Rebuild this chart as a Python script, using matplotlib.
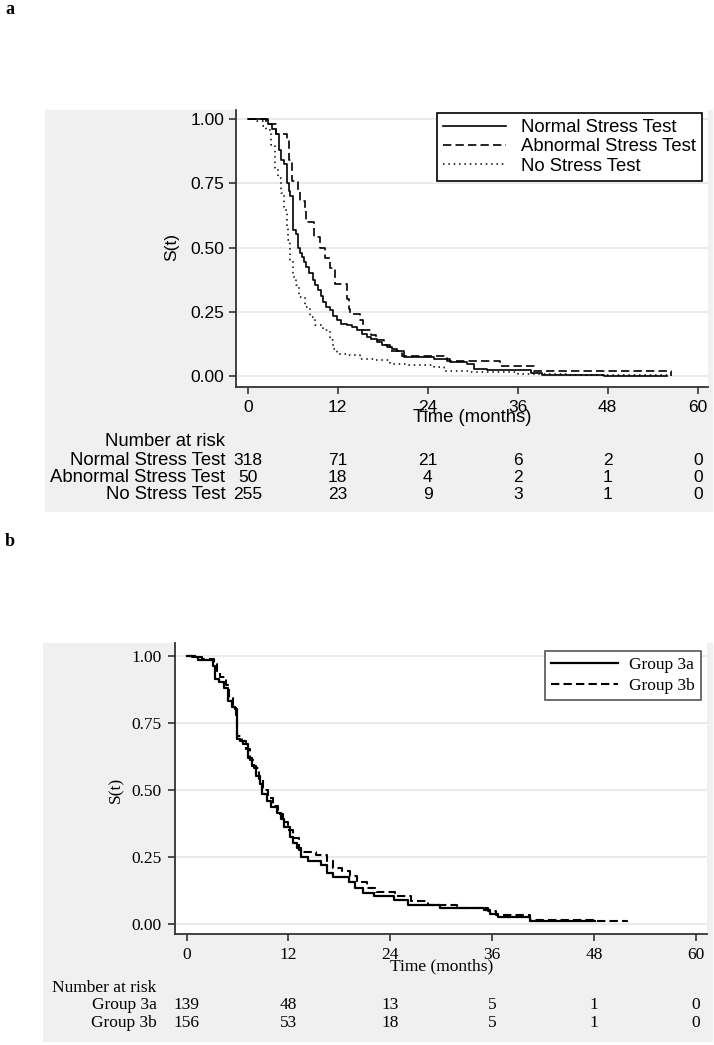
import numpy as np
import matplotlib.pyplot as plt
from matplotlib.patches import Rectangle
from matplotlib.transforms import blended_transform_factory

# ------------------------------------------------------------
# Data (Kaplan-Meier steps)
# ------------------------------------------------------------
risk_times = [0, 12, 24, 36, 48, 60]

# panel a
normal_t = [0, 2.7, 3.2, 3.8, 4.2, 4.5, 4.9, 5.2, 5.5, 5.7, 6.0, 6.1, 6.4, 6.7, 7.0,
            7.2, 7.5, 7.8, 8.2, 8.7, 9.0, 9.4, 9.8, 10.1, 10.5, 11.0, 11.4, 11.9, 12.5,
            13.2, 13.9, 14.6, 15.3, 15.9, 16.5, 17.2, 17.9, 18.6, 19.3, 19.9, 20.8,
            24.8, 27.0, 29.3, 30.2, 31.9, 37.8, 39.2, 47.5, 51.8, 55.9]
normal_s = [1.0, 0.98, 0.96, 0.94, 0.88, 0.84, 0.825, 0.75, 0.72, 0.70, 0.63, 0.57, 0.553,
            0.50, 0.48, 0.463, 0.445, 0.424, 0.40, 0.373, 0.355, 0.334, 0.31, 0.288, 0.27,
            0.256, 0.235, 0.217, 0.204, 0.20, 0.19, 0.178, 0.165, 0.153, 0.143, 0.133,
            0.123, 0.114, 0.107, 0.10, 0.075, 0.068, 0.056, 0.049, 0.030, 0.023, 0.013,
            0.006, 0.003, 0.0, 0.0]

abnormal_t = [0, 2.5, 3.8, 5.2, 5.5, 5.9, 6.7, 7.0, 7.6, 7.8, 8.9, 9.6, 10.3, 11.0, 11.6,
              13.2, 13.5, 13.7, 15.0, 15.4, 16.4, 17.1, 18.2, 19.0, 20.6, 26.6, 33.7,
              38.2, 56.4]
abnormal_s = [1.0, 0.98, 0.94, 0.92, 0.84, 0.76, 0.72, 0.68, 0.64, 0.60, 0.54, 0.50, 0.46,
              0.42, 0.36, 0.30, 0.26, 0.24, 0.22, 0.18, 0.16, 0.14, 0.12, 0.10, 0.08, 0.06,
              0.04, 0.02, 0.0]

nostress_t = [0, 1.0, 1.3, 2.0, 2.5, 3.1, 3.6, 4.0, 4.5, 4.9, 5.2, 5.4, 5.7, 6.0, 6.5, 6.9,
              7.6, 8.3, 9.0, 10.1, 11.0, 11.4, 11.9, 13.2, 15.0, 16.8, 19.0, 21.3, 24.8,
              26.2, 29.7, 36.0, 42.4, 56.4]
nostress_s = [1.0, 0.996, 0.99, 0.97, 0.955, 0.90, 0.81, 0.77, 0.71, 0.644, 0.58, 0.528,
              0.45, 0.386, 0.353, 0.308, 0.269, 0.23, 0.198, 0.178, 0.14, 0.107, 0.088,
              0.081, 0.069, 0.062, 0.049, 0.043, 0.036, 0.021, 0.017, 0.01, 0.004, 0.004]

normal_risk = [318, 71, 21, 6, 2, 0]
abnormal_risk = [50, 18, 4, 2, 1, 0]
nostress_risk = [255, 23, 9, 3, 1, 0]

# panel b
g3a_t = [0, 1.0, 1.3, 3.1, 3.4, 3.8, 4.4, 4.9, 5.3, 5.7, 5.9, 6.3, 6.7, 7.2, 7.7, 8.2, 8.6,
         8.9, 9.5, 10.0, 10.7, 11.1, 11.5, 12.2, 12.6, 13.0, 13.5, 14.3, 15.8, 16.5, 17.3,
         19.1, 19.8, 20.8, 22.1, 24.4, 26.1, 29.9, 35.0, 35.7, 36.7, 40.5, 48.1]
g3a_s = [1.0, 0.993, 0.984, 0.96, 0.913, 0.90, 0.88, 0.83, 0.81, 0.80, 0.69, 0.68, 0.67,
         0.62, 0.59, 0.55, 0.52, 0.486, 0.46, 0.437, 0.412, 0.39, 0.363, 0.325, 0.30, 0.282,
         0.25, 0.233, 0.22, 0.19, 0.175, 0.158, 0.134, 0.115, 0.103, 0.09, 0.072, 0.059,
         0.053, 0.038, 0.026, 0.01, 0.01]

g3b_t = [0, 0.6, 1.8, 3.2, 3.6, 4.0, 4.6, 5.0, 5.5, 5.8, 6.0, 6.5, 7.0, 7.5, 8.0, 8.5, 9.0,
         9.6, 10.2, 10.8, 11.4, 12.0, 12.5, 13.2, 13.7, 15.3, 16.5, 17.3, 18.3, 19.3, 20.1,
         21.3, 22.3, 24.6, 26.4, 28.4, 31.9, 35.5, 36.5, 40.5, 48.1, 51.9]
g3b_s = [1.0, 0.994, 0.987, 0.97, 0.944, 0.92, 0.89, 0.84, 0.81, 0.78, 0.70, 0.68, 0.65,
         0.61, 0.58, 0.54, 0.50, 0.47, 0.44, 0.41, 0.38, 0.35, 0.32, 0.276, 0.27, 0.257,
         0.233, 0.208, 0.196, 0.177, 0.158, 0.134, 0.121, 0.103, 0.084, 0.072, 0.059,
         0.047, 0.035, 0.016, 0.01, 0.006]

g3a_risk = [139, 48, 13, 5, 1, 0]
g3b_risk = [156, 53, 18, 5, 1, 0]

# ------------------------------------------------------------
# Figure (pixel layout of a 714x1045 canvas)
# ------------------------------------------------------------
W, H = 714, 1045
fig = plt.figure(figsize=(W / 100, H / 100), dpi=100)

def fx(px):
    return px / W

def fy(py):
    return 1 - py / H

BG = '#f0f0f0'
GRID = '#e4e4e4'

# gray panel backgrounds, behind the axes
fig.patches.append(Rectangle((fx(45), fy(512)), fx(713 - 45), (512 - 110) / H,
                             transform=fig.transFigure, facecolor=BG, edgecolor='none', zorder=-5))
fig.patches.append(Rectangle((fx(43), fy(1042)), fx(713 - 43), (1042 - 643) / H,
                             transform=fig.transFigure, facecolor=BG, edgecolor='none', zorder=-5))

fig.text(fx(10), fy(9), 'a', fontsize=13, fontweight='bold', family='Liberation Serif',
         ha='center', va='center')
fig.text(fx(10), fy(542), 'b', fontsize=13, fontweight='bold', family='Liberation Serif',
         ha='center', va='center')


def style_axes(ax, font, fs):
    ax.set_facecolor('white')
    for side in ['top', 'right']:
        ax.spines[side].set_visible(False)
    for side in ['left', 'bottom']:
        ax.spines[side].set_linewidth(1.3)
        ax.spines[side].set_color('#333333')
    ax.set_yticks([0, 0.25, 0.5, 0.75, 1.0])
    ax.set_yticklabels(['0.00', '0.25', '0.50', '0.75', '1.00'])
    ax.set_xticks(risk_times)
    ax.tick_params(length=5, width=1.2, color='#333333', labelsize=fs)
    for lab in ax.get_xticklabels() + ax.get_yticklabels():
        lab.set_family(font)
    ax.grid(axis='y', color=GRID, lw=1.1)
    ax.set_axisbelow(True)


# ---------------- panel a ----------------
fa = 'Liberation Sans'
fsa = 12.5      # numbers
fsa_t = 13.3    # words
axa = fig.add_axes([fx(236), fy(387), fx(708 - 236), (387 - 110) / H])
axa.set_xlim(-1.56, 61.37)
axa.set_ylim(-0.0415, 1.034)
style_axes(axa, fa, fsa)
axa.tick_params(axis='x', pad=4)
axa.tick_params(axis='y', pad=3.5)

axa.plot(normal_t, normal_s, drawstyle='steps-post', color='black', lw=1.2,
         label='Normal Stress Test')
axa.plot(abnormal_t, abnormal_s, drawstyle='steps-post', color='black', lw=1.2,
         ls=(0, (5, 2.5)), label='Abnormal Stress Test')
axa.plot(nostress_t, nostress_s, drawstyle='steps-post', color='black', lw=1.1,
         ls=(0, (1, 2.5)), label='No Stress Test')

lega = axa.legend(loc='upper right', bbox_to_anchor=(0.987, 0.989), borderaxespad=0,
                  fancybox=False, framealpha=1, edgecolor='black',
                  prop={'family': fa, 'size': fsa_t},
                  handlelength=3.4, handletextpad=0.8, labelspacing=0.12, borderpad=0.33)
lega.get_frame().set_linewidth(1.2)

fig.text(fx(172), fy(247), 'S(t)', rotation=90, ha='center', va='center', family=fa, fontsize=fsa)

ta = blended_transform_factory(axa.transData, fig.transFigure)
axa.text(30, fy(418), 'Time (months)', transform=ta, ha='center', va='center',
         family=fa, fontsize=fsa_t)
axa.text(-3.0, fy(442), 'Number at risk', transform=ta, ha='right', va='center',
         family=fa, fontsize=fsa_t)
rows_a = [('Normal Stress Test', normal_risk, 460),
          ('Abnormal Stress Test', abnormal_risk, 478),
          ('No Stress Test', nostress_risk, 495)]
for name, vals, py in rows_a:
    axa.text(-3.0, fy(py), name, transform=ta, ha='right', va='center', family=fa, fontsize=fsa_t)
    for t, v in zip(risk_times, vals):
        axa.text(t, fy(py), str(v), transform=ta, ha='center', va='center',
                 family=fa, fontsize=fsa, clip_on=False)

# ---------------- panel b ----------------
fb = 'Liberation Serif'
fsb = 12.5
axb = fig.add_axes([fx(175), fy(934), fx(706.7 - 175), (934 - 643) / H])
axb.set_xlim(-1.355, 61.27)
axb.set_ylim(-0.0372, 1.0466)
style_axes(axb, fb, fsb)
axb.tick_params(axis='x', pad=4.3)
axb.tick_params(axis='y', pad=4.5)

axb.plot(g3a_t, g3a_s, drawstyle='steps-post', color='black', lw=1.6, label='Group 3a')
axb.plot(g3b_t, g3b_s, drawstyle='steps-post', color='black', lw=1.5,
         ls=(0, (4, 2)), label='Group 3b')

legb = axb.legend(loc='upper right', bbox_to_anchor=(0.9893, 0.9725), borderaxespad=0,
                  fancybox=False, framealpha=1, edgecolor='#555555',
                  prop={'family': fb, 'size': fsb},
                  handlelength=3.85, handletextpad=0.63, labelspacing=0.25, borderpad=0.35)
legb.get_frame().set_linewidth(1.2)

fig.text(fx(116), fy(790), 'S(t)', rotation=90, ha='center', va='center', family=fb, fontsize=fsb)

tb = blended_transform_factory(axb.transData, fig.transFigure)
axb.text(30, fy(966.7), 'Time (months)', transform=tb, ha='center', va='center',
         family=fb, fontsize=fsb)
axb.text(-15.84, fy(988), 'Number at risk', transform=tb, ha='left', va='center',
         family=fb, fontsize=fsb)
rows_b = [('Group 3a', g3a_risk, 1005), ('Group 3b', g3b_risk, 1022.7)]
for name, vals, py in rows_b:
    axb.text(-3.47, fy(py), name, transform=tb, ha='right', va='center', family=fb, fontsize=fsb)
    for t, v in zip(risk_times, vals):
        axb.text(t, fy(py), str(v), transform=tb, ha='center', va='center',
                 family=fb, fontsize=fsb, clip_on=False)

fig.savefig('out.png', dpi=100, facecolor='white')
